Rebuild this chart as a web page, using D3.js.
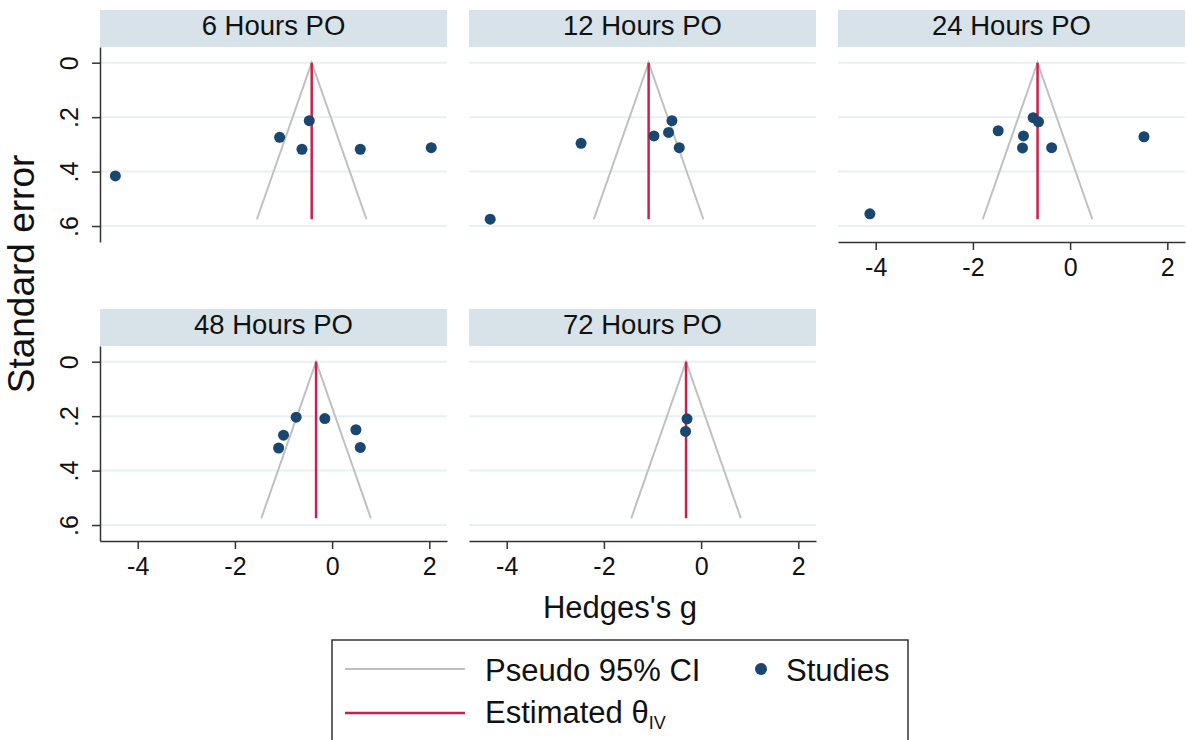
<!DOCTYPE html>
<meta charset="utf-8">
<style>
body { margin: 0; background: #fff; }
svg { font-family: "Liberation Sans", Arial, sans-serif; }
.grid line { stroke: #e8f0f2; stroke-width: 2px; }
.axis path, .axis line { stroke: #333; stroke-width: 1.5px; }
.axis text { font-size: 25px; fill: #111; }
.funnel { fill: none; stroke: #c0c0c0; stroke-width: 2px; }
.theta { stroke: #cc1f4c; stroke-width: 2.5px; }
.dot { fill: #1a476f; }
</style>
<svg width="1186" height="740"></svg>
<script src="https://d3js.org/d3.v7.min.js"></script>
<script>
// panels of the funnel plot (by time point)
var panelTitles = ["6 Hours PO", "12 Hours PO", "24 Hours PO", "48 Hours PO", "72 Hours PO"];
var thetaIV = [-0.42, -1.08, -0.67, -0.33, -0.31];
var seMax = 0.575;

var hedgesG = [
  [-4.46, -1.08, -0.47, -0.62, 0.58, 2.04],
  [-4.34, -2.47, -0.97, -0.67, -0.60, -0.45],
  [-4.12, -1.48, -0.96, -0.98, -0.76, -0.65, -0.38, 1.52],
  [-0.74, -0.15, -1.00, -1.10, 0.49, 0.58],
  [-0.29, -0.32]
];
var stdErr = [
  [0.416, 0.274, 0.213, 0.318, 0.318, 0.312],
  [0.575, 0.296, 0.269, 0.256, 0.213, 0.312],
  [0.555, 0.250, 0.269, 0.313, 0.202, 0.217, 0.312, 0.272],
  [0.204, 0.209, 0.270, 0.317, 0.250, 0.315],
  [0.210, 0.256]
];

var xTicks = [-4, -2, 0, 2];
var xTickLabels = ["-4", "-2", "0", "2"];
var yTicks = [0, 0.2, 0.4, 0.6];
var yTickLabels = ["0", ".2", ".4", ".6"];

var svg = d3.select("svg");

var colX = [100, 469, 838],
    rowY = [10, 309],
    panelW = 347,
    headerH = 37,
    plotH = 195;

var x = d3.scaleLinear().domain([-4.776, 2.364]).range([0, panelW]);
var y = d3.scaleLinear().domain([-0.0577, 0.6587]).range([0, plotH]);

panelTitles.forEach(function(title, i) {
  var col = i % 3, row = Math.floor(i / 3);
  var g = svg.append("g")
      .attr("transform", "translate(" + colX[col] + "," + rowY[row] + ")");

  // header band
  g.append("rect")
      .attr("width", panelW)
      .attr("height", headerH)
      .attr("fill", "#d7e3e9");
  g.append("text")
      .attr("x", panelW / 2)
      .attr("y", 25)
      .attr("text-anchor", "middle")
      .style("font-size", "27.5px")
      .attr("fill", "#111")
      .text(title);

  var p = g.append("g").attr("transform", "translate(0," + headerH + ")");

  // gridlines
  p.append("g").attr("class", "grid")
    .selectAll("line")
    .data(yTicks)
    .enter().append("line")
      .attr("x1", 0).attr("x2", panelW)
      .attr("y1", function(d) { return y(d); })
      .attr("y2", function(d) { return y(d); });

  // pseudo 95% CI
  var t = thetaIV[i];
  p.append("path")
      .attr("class", "funnel")
      .datum([[t - 1.96 * seMax, seMax], [t, 0], [t + 1.96 * seMax, seMax]])
      .attr("d", d3.line().x(function(d) { return x(d[0]); }).y(function(d) { return y(d[1]); }));

  p.append("line")
      .attr("class", "theta")
      .attr("x1", x(t)).attr("x2", x(t))
      .attr("y1", y(0)).attr("y2", y(seMax));

  p.selectAll(".dot")
    .data(hedgesG[i].map(function(v, j) { return [v, stdErr[i][j]]; }))
    .enter().append("circle")
      .attr("class", "dot")
      .attr("cx", function(d) { return x(d[0]); })
      .attr("cy", function(d) { return y(d[1]); })
      .attr("r", 5.5);

  // y axis on the left column
  if (col === 0) {
    var ya = p.append("g")
        .attr("class", "axis")
        .call(d3.axisLeft(y).tickValues(yTicks).tickSize(8).tickSizeOuter(0)
          .tickFormat(function(d, k) { return yTickLabels[k]; }));
    ya.selectAll("text")
        .attr("transform", "rotate(-90)")
        .attr("x", 0)
        .attr("y", -22)
        .attr("dy", 0)
        .attr("text-anchor", "middle");
  }

  // x axis where no panel is below
  if (i >= 2) {
    var xa = p.append("g")
        .attr("class", "axis")
        .attr("transform", "translate(0," + plotH + ")")
        .call(d3.axisBottom(x).tickValues(xTicks).tickSize(8).tickSizeOuter(0)
          .tickFormat(function(d, k) { return xTickLabels[k]; }));
    xa.selectAll("text")
        .attr("y", 34)
        .attr("dy", 0);
  }
});

// axis titles
svg.append("text")
    .attr("x", 620)
    .attr("y", 618)
    .attr("text-anchor", "middle")
    .style("font-size", "31px")
    .attr("fill", "#111")
    .text("Hedges's g");

svg.append("text")
    .attr("transform", "translate(34,274) rotate(-90)")
    .attr("text-anchor", "middle")
    .style("font-size", "37px")
    .attr("fill", "#111")
    .text("Standard error");

// legend
var lg = svg.append("g");
lg.append("rect")
    .attr("x", 332).attr("y", 640)
    .attr("width", 576).attr("height", 120)
    .attr("fill", "#fff")
    .attr("stroke", "#333")
    .attr("stroke-width", 1.5);

lg.append("line").attr("class", "funnel")
    .attr("x1", 345).attr("x2", 465).attr("y1", 669).attr("y2", 669);
lg.append("text")
    .attr("x", 485).attr("y", 681)
    .style("font-size", "31px").attr("fill", "#111")
    .text("Pseudo 95% CI");

lg.append("circle").attr("class", "dot")
    .attr("cx", 761).attr("cy", 669).attr("r", 6);
lg.append("text")
    .attr("x", 786).attr("y", 681)
    .style("font-size", "31px").attr("fill", "#111")
    .text("Studies");

lg.append("line").attr("class", "theta")
    .attr("x1", 345).attr("x2", 465).attr("y1", 713).attr("y2", 713);
var est = lg.append("text")
    .attr("x", 485).attr("y", 723)
    .style("font-size", "31px").attr("fill", "#111");
est.append("tspan").text("Estimated θ");
est.append("tspan")
    .attr("dy", 6)
    .style("font-size", "18px")
    .text("IV");
</script>
